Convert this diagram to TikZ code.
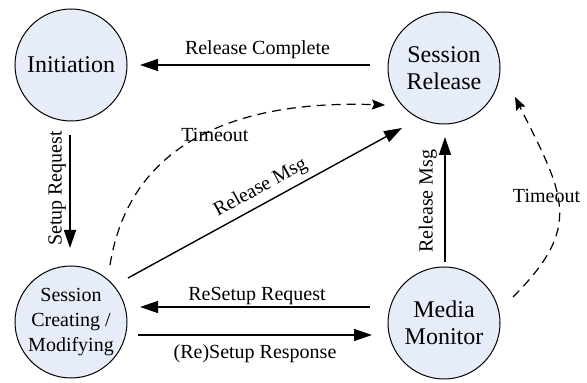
\documentclass[tikz,border=0pt]{standalone}
\usepackage{fontspec}
\setmainfont{Liberation Serif}
\usetikzlibrary{arrows.meta}
\definecolor{statefill}{RGB}{231,237,248}
\tikzset{
  state/.style={circle, draw, line width=0.5pt, fill=statefill, minimum size=56pt,
    inner sep=0pt, align=center, font=\fontsize{12}{13.5}\selectfont},
  msg/.style={line width=0.7pt, -{Triangle[length=9pt,width=6pt]}},
  tmo/.style={line width=0.6pt, dash pattern=on 4.5pt off 3pt,
    -{Stealth[length=6.5pt,width=5pt,inset=1pt]}},
  lbl/.style={font=\fontsize{10}{12}\selectfont, inner sep=0pt, anchor=base},
}
\begin{document}
\begin{tikzpicture}[x=0.5pt,y=-0.5pt]
\useasboundingbox (0,0) rectangle (587,383);

% states
\node[state] (init) at (71,65)  {Initiation};
\node[state] (sr)   at (444,68) {Session\\Release};
\node[state, font=\fontsize{10}{12.5}\selectfont] (sc) at (71,322) {Session\\Creating /\\Modifying};
\node[state] (mm)   at (444,323) {Media\\Monitor};

% solid transitions
\draw[msg] ([shift={(-74,-3)}]sr.center) -- ([shift={(69,0)}]init.center);
\draw[msg] ([shift={(-1,70)}]init.center) -- ([shift={(-1,-74)}]sc.center);
\draw[msg] ([shift={(57,-44)}]sc.center) -- ([shift={(-42,60)}]sr.center);
\draw[msg] ([shift={(1,-61)}]mm.center) -- ([shift={(1,69)}]sr.center);
\draw[msg] ([shift={(-74,-16)}]mm.center) -- ([shift={(69,-15)}]sc.center);
\draw[msg] ([shift={(67,13)}]sc.center) -- ([shift={(-72,12)}]mm.center);

% timeouts
\draw[tmo] ([shift={(39,-57)}]sc.center) .. controls (130,140) and (240,100) .. ([shift={(-59,37)}]sr.center);
\draw[tmo] ([shift={(69,-26)}]mm.center) .. controls (583.7,226.3) and (564.2,195.3) .. ([shift={(71,29)}]sr.center);

% labels
\node[lbl] (lrc)  at (257.5,55) {Release Complete};
\node[lbl, rotate=90] (lsr) at (61.5,188.5) {Setup Request};
\node[lbl] (lto1) at (215,142) {Timeout};
\node[lbl, rotate=28.7] (lrm1) at (263,192) {Release Msg};
\node[lbl, rotate=90] (lrm2) at (432.7,201) {Release Msg};
\node[lbl] (lto2) at (546.5,202.7) {Timeout};
\node[lbl] (lrr)  at (257,301) {ReSetup Request};
\node[lbl] (lrs)  at (255,359) {(Re)Setup Response};
\end{tikzpicture}
\end{document}
